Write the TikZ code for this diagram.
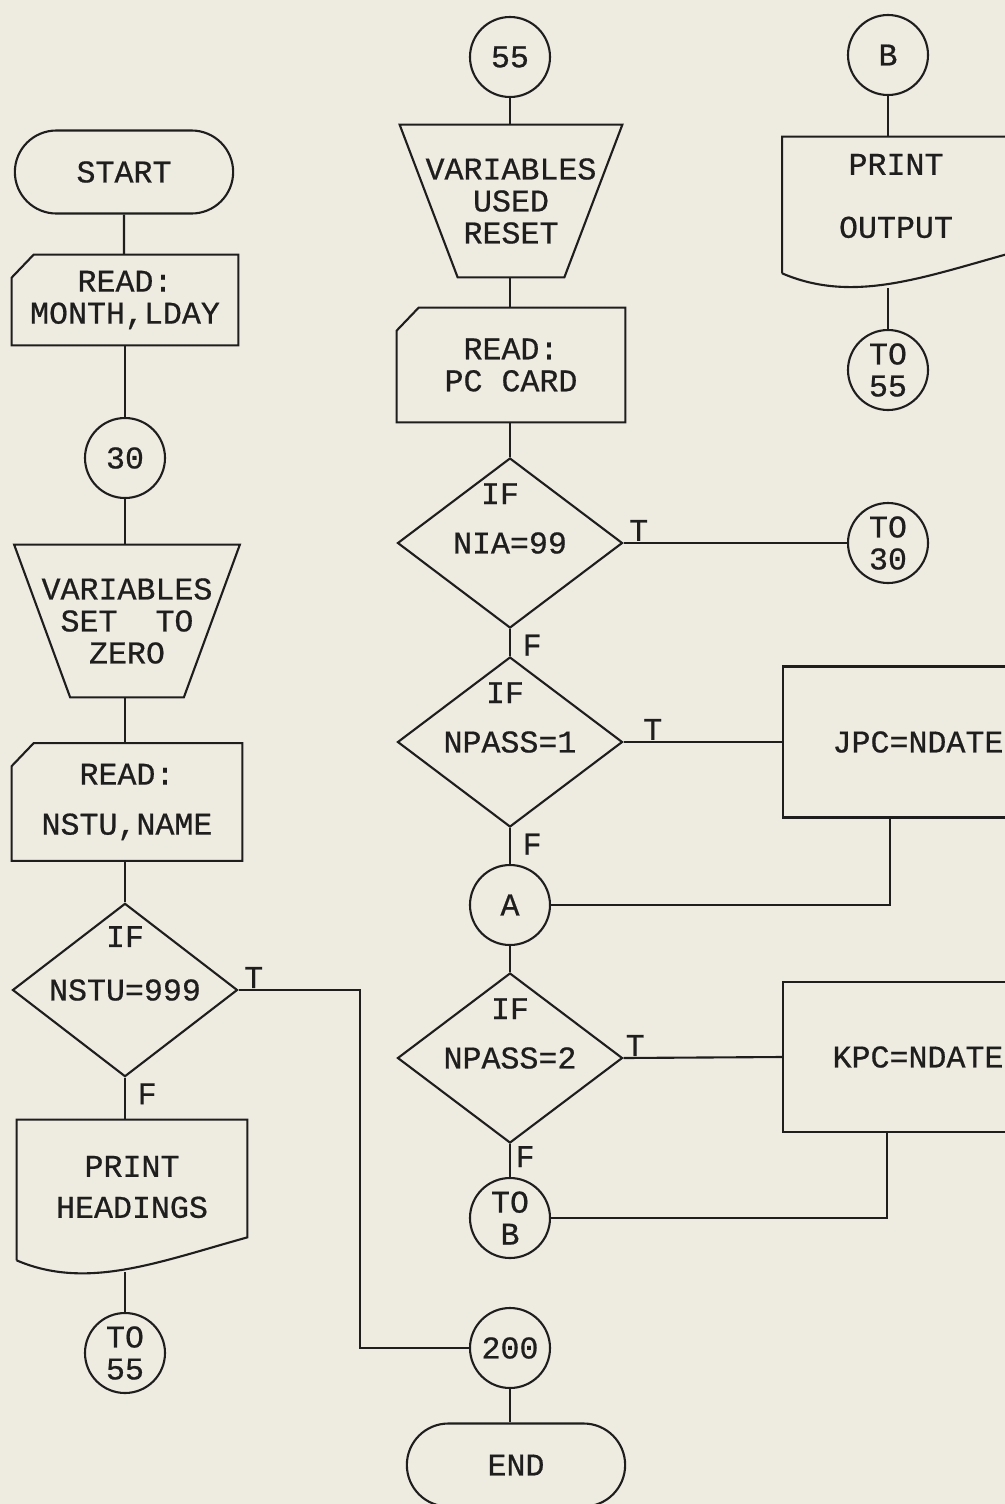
\documentclass[tikz,border=0pt]{standalone}
\usepackage{fontspec}
\setmonofont{Liberation Mono}[FakeBold=0.6]
\usepackage{tikz}
\usetikzlibrary{shapes.geometric, shapes.misc, positioning, calc}
\definecolor{paper}{RGB}{238,235,224}
\definecolor{ink}{RGB}{30,30,30}

% outline of a punched card around a (blank) node
\newcommand{\cardoutline}[1]{%
  \draw[conn] ([yshift=-0.46cm]#1.north west) -- ([xshift=0.44cm]#1.north west)
    -- (#1.north east) -- (#1.south east) -- (#1.south west) -- cycle;
}
% outline of a manual operation (wide top) around a node
\newcommand{\manualoutline}[2]{%
  \draw[conn] (#1.north west) -- (#1.north east)
    -- ([xshift=-#2]#1.south east) -- ([xshift=#2]#1.south west) -- cycle;
}
% outline of a document symbol around a node: name, left end, right end
\newcommand{\docoutline}[3]{%
  \draw[conn] ([yshift=#2]#1.south west) -- (#1.north west) -- (#1.north east)
    -- ([yshift=#3]#1.south east)
    .. controls +(-1.8cm,-0.5cm) and +(1.4cm,-0.6cm) .. ([yshift=#2]#1.south west);
}

\begin{document}
\begin{tikzpicture}[
        x=0.2mm, y=-0.2mm,
        font=\ttfamily\fontsize{18pt}{18.2pt}\selectfont,
        every node/.style={text=ink},
        % Styles for the flowchart symbols
        term/.style={
            rounded rectangle, draw=ink, line width=1.2pt,
            minimum width=4.6cm, minimum height=1.66cm
        },
        box/.style={
            rectangle, inner sep=0pt, align=center
        },
        connector/.style={
            circle, draw=ink, line width=1.2pt,
            minimum size=1.6cm, inner sep=0pt, align=center
        },
        decision/.style={
            diamond, draw=ink, line width=1.2pt, inner sep=0pt,
            minimum width=4.5cm, minimum height=3.4cm
        },
        process/.style={
            rectangle, draw=ink, line width=1.2pt,
            minimum width=5.4cm, minimum height=3.02cm
        },
        ifmark/.style={inner sep=0pt, label distance=-0.95cm},
        tf/.style={inner sep=1pt},
        % Style for connecting lines
        conn/.style={draw=ink, line width=1.2pt}
    ]

    \fill[paper] (0,0) rectangle (1005,1504);
    \useasboundingbox (0,0) rectangle (1005,1504);

    % 1. LEFT COLUMN
    \node[term]      (start)    at (124,172)  {START};
    \node[box, minimum width=4.52cm, minimum height=1.8cm]
                     (readdate) at (125,300)  {READ:\\MONTH,LDAY};
    \node[connector] (c30)      at (125,458)  {30};
    \node[box, minimum width=4.5cm, minimum height=3.04cm]
                     (zero)     at (127,621)  {VARIABLES\\SET~~TO\\ZERO};
    \node[box, minimum width=4.6cm, minimum height=2.34cm]
                     (readname) at (127,802)  {READ:\\[0.36cm]NSTU,NAME};
    \node[decision, label={[name=nstuif, ifmark, label distance=-0.9cm]north:IF}]
                     (nstu)     at (125,990)  {NSTU=999};
    \node[box, minimum width=4.6cm, minimum height=2.68cm]
                     (heads)    at (132,1187) {PRINT\\[0.18cm]HEADINGS};
    \node[connector] (to55a)    at (125,1353) {TO\\55};

    % 2. MIDDLE COLUMN
    \node[connector] (c55)      at (510,57)   {55};
    \node[box, minimum width=4.44cm, minimum height=3.04cm]
                     (reset)    at (511,201)  {VARIABLES\\USED\\RESET};
    \node[box, minimum width=4.56cm, minimum height=2.28cm]
                     (readpc)   at (511,365)  {READ:\\PC CARD};
    \node[decision, label={[name=niaif, ifmark, xshift=-0.2cm]north:IF}]
                     (nia)      at (510,543)  {NIA=99};
    \node[decision, label={[name=pass1if, ifmark, xshift=-0.1cm]north:IF}]
                     (pass1)    at (510,742)  {NPASS=1};
    \node[connector] (ca)       at (510,905)  {A};
    \node[decision, label={[name=pass2if, ifmark]north:IF}]
                     (pass2)    at (510,1058) {NPASS=2};
    \node[connector] (tob)      at (510,1218) {TO\\B};
    \node[connector] (c200)     at (510,1348) {200};
    \node[term]      (stop)     at (516,1465) {END};

    % 3. RIGHT COLUMN
    \node[connector] (cb)       at (888,55)   {B};
    \node[box, minimum width=4.54cm, minimum height=2.36cm]
                     (output)   at (896,196)  {PRINT\\[0.62cm]OUTPUT};
    \node[connector] (to55b)    at (888,370)  {TO\\55};
    \node[connector] (to30)     at (888,543)  {TO\\30};
    \node[process]   (jpc)      at (918,742)  {JPC=NDATE};
    \node[process, minimum height=3cm]
                     (kpc)      at (918,1057) {KPC=NDATE};

    % symbol outlines
    \cardoutline{readdate}
    \cardoutline{readname}
    \cardoutline{readpc}
    \manualoutline{zero}{1.12cm}
    \manualoutline{reset}{1.16cm}
    \docoutline{heads}{-0.12cm}{0.34cm}
    \docoutline{output}{-0.36cm}{0.04cm}

    % 4. FLOW LINES
    \draw[conn] (start) -- (start |- readdate.north);
    \draw[conn] (c30) -- (c30 |- readdate.south);
    \draw[conn] (c30) -- (c30 |- zero.north);
    \draw[conn] (zero.south -| c30) -- (c30 |- readname.north);
    \draw[conn] (nstu) -- (nstu |- readname.south);
    \draw[conn] (nstu.south) -- (nstu.south |- heads.north);
    \draw[conn] (to55a) -- ([yshift=-0.36cm]to55a |- heads.south);

    \coordinate (nstubend) at (360,990);
    \draw[conn] (nstu.east) -- (nstubend) |- (c200.west);

    \draw[conn] (c55) -- (c55 |- reset.north);
    \draw[conn] (reset.south -| c55) -- (c55 |- readpc.north);
    \draw[conn] (nia) -- (nia |- readpc.south);
    \draw[conn] (nia) -- (pass1);
    \draw[conn] (pass1) -- (ca);
    \draw[conn] (ca) -- (pass2);
    \draw[conn] (pass2) -- (tob);
    \draw[conn] (c200) -- (c200 |- stop.north);

    \draw[conn] (nia.east) -- (to30.west);
    \draw[conn] (pass1.east) -- (jpc.west);
    \draw[conn] (ca.east) -| ([xshift=-0.56cm]jpc.south);
    \draw[conn] (pass2.east) -- (kpc.west);
    \draw[conn] (tob.east) -| ([xshift=-0.62cm]kpc.south);

    \draw[conn] (cb) -- (cb |- output.north);
    \draw[conn] (to55b) -- ([yshift=-0.66cm]to55b |- output.south);

    % 5. T / F LABELS
    \node[tf, above right=0pt and 2pt]  (nstut)  at (nstu.east)  {T};
    \node[tf, below right=2pt and 6pt]  (nstuf)  at (nstu.south) {F};
    \node[tf, above right=0pt and 2pt]  (niat)   at (nia.east)   {T};
    \node[tf, below right=2pt and 6pt]  (niaf)   at (nia.south)  {F};
    \node[tf, above right=0pt and 10pt] (pass1t) at (pass1.east) {T};
    \node[tf, below right=2pt and 6pt]  (pass1f) at (pass1.south) {F};
    \node[tf, above right=0pt and 0pt]  (pass2t) at (pass2.east) {T};
    \node[tf, below right=0pt and 2pt]  (pass2f) at (pass2.south) {F};

\end{tikzpicture}
\end{document}
